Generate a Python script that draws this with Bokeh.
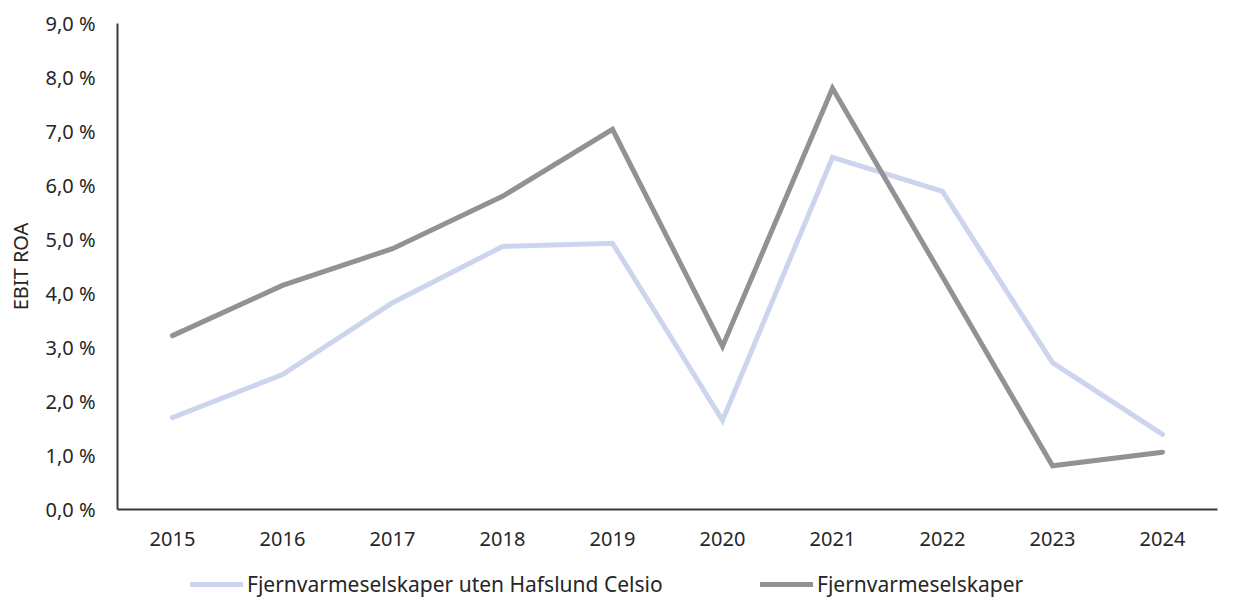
from bokeh.plotting import figure
from bokeh.layouts import column
from bokeh.models import Range1d, FixedTicker, Legend, LegendItem, CustomJSTickFormatter
from bokeh.embed import file_html
from bokeh.resources import INLINE

years = ["2015", "2016", "2017", "2018", "2019", "2020", "2021", "2022", "2023", "2024"]
uten_celsio = [1.70, 2.50, 3.83, 4.87, 4.93, 1.65, 6.52, 5.89, 2.72, 1.39]
alle = [3.22, 4.15, 4.83, 5.80, 7.04, 3.02, 7.80, 4.31, 0.81, 1.06]
y_ticks = [0, 1, 2, 3, 4, 5, 6, 7, 8, 9]
name_a = "Fjernvarmeselskaper uten Hafslund Celsio"
name_b = "Fjernvarmeselskaper"
color_a = "#cdd5ee"
color_b = "#929296"

FONT = "Noto Sans"

p = figure(x_range=years, width=1225, height=563, output_backend="svg",
           toolbar_location=None, min_border_left=117, min_border_right=8,
           min_border_top=23, min_border_bottom=54)
p.y_range = Range1d(0, 9)
p.outline_line_color = None
p.xgrid.grid_line_color = None
p.ygrid.grid_line_color = None

p.line(years, uten_celsio, line_color=color_a, line_width=5, line_cap="round", line_join="miter")
p.line(years, alle, line_color=color_b, line_width=5, line_cap="round", line_join="miter")

p.yaxis.ticker = FixedTicker(ticks=y_ticks)
p.yaxis.formatter = CustomJSTickFormatter(code="return tick.toFixed(1).replace('.', ',') + ' %';")
p.yaxis.axis_label = "EBIT ROA"
for ax in (p.xaxis, p.yaxis):
    ax.axis_line_color = "#3a3a3a"
    ax.axis_line_width = 2
    ax.major_tick_line_color = None
    ax.minor_tick_line_color = None
    ax.major_label_text_font = FONT
    ax.major_label_text_font_size = "20px"
    ax.major_label_text_color = "#262626"
    ax.axis_label_text_font = FONT
    ax.axis_label_text_font_style = "normal"
    ax.axis_label_text_font_size = "20px"
    ax.axis_label_text_color = "#262626"
p.yaxis.major_label_standoff = 16
p.xaxis.major_label_standoff = 16
p.yaxis.axis_label_standoff = 8

# legend strip below the chart (its lines lie outside its own y range, only the legend shows)
lg = figure(width=1225, height=35, output_backend="svg", toolbar_location=None,
            x_range=Range1d(0, 1), y_range=Range1d(100, 101),
            min_border_left=0, min_border_right=0, min_border_top=0, min_border_bottom=0)
lg.axis.visible = False
lg.grid.visible = False
lg.outline_line_color = None
idx = list(range(len(years)))
ra = lg.line(idx, uten_celsio, line_color=color_a, line_width=5, line_cap="round")
rb = lg.line(idx, alle, line_color=color_b, line_width=5, line_cap="round")
legend = Legend(items=[LegendItem(label=name_a, renderers=[ra]), LegendItem(label=name_b, renderers=[rb])],
                orientation="horizontal", location=(73, 0), border_line_color=None,
                background_fill_alpha=0, label_text_font=FONT, label_text_font_size="21px",
                label_text_color="#262626", glyph_width=53, glyph_height=20, label_height=20,
                label_width=450, label_standoff=4, spacing=63, padding=0, margin=0)
lg.add_layout(legend, "center")

open("out.html", "w").write(file_html(column(p, lg, spacing=0), INLINE))
